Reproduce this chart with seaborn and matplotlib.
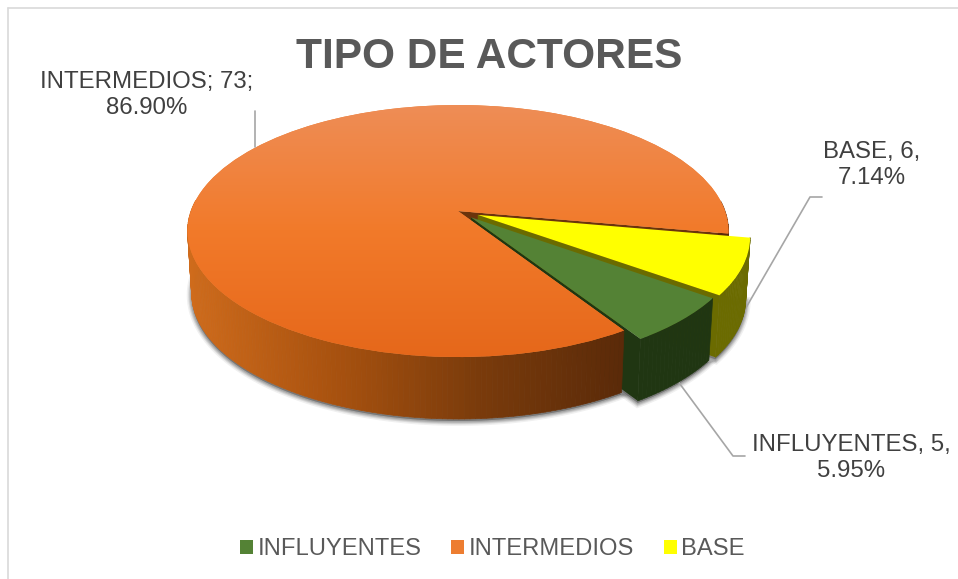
import numpy as np
import seaborn as sns
import matplotlib.pyplot as plt
import matplotlib.transforms as mtransforms
from matplotlib.collections import PolyCollection
from matplotlib.colors import LinearSegmentedColormap
from matplotlib.lines import Line2D
from matplotlib.patches import Polygon

# Values
categories = ['INFLUYENTES', 'INTERMEDIOS', 'BASE']
values = [5, 73, 6]
percent_labels = ['5.95%', '86.90%', '7.14%']
separators = [',', ';', ',']
title_text = 'TIPO DE ACTORES'

sns.set_style('white')
plt.rcParams['font.family'] = ['Liberation Sans', 'DejaVu Sans']

W, H = 958, 579

# Tilted plane: pie unit coords -> figure pixels, with some perspective
CX, CY, RX, RY, K = 458.0, 211.0, 267.0, 122.8, 0.159
DEPTH = 62.0
SHRINK = 0.015


def project(xy, drop=0.0):
    xy = np.asarray(xy, dtype=float)
    w = 1 + K * xy[..., 1]
    sx = CX + RX * xy[..., 0] / w * (1 - SHRINK * drop)
    sy = CY - RY * xy[..., 1] / w + DEPTH * drop
    return np.stack([sx, sy], axis=-1)


class Tilt(mtransforms.Transform):
    input_dims = 2
    output_dims = 2

    def transform_non_affine(self, values):
        return project(values)


def arc_points(wedge, t1=None, t2=None):
    t1 = wedge.theta1 if t1 is None else t1
    t2 = wedge.theta2 if t2 is None else t2
    n = max(int(t2 - t1), 2)
    t = np.radians(np.linspace(t1, t2, n))
    return np.column_stack([wedge.center[0] + np.cos(t), wedge.center[1] + np.sin(t)])


def slice_outline(wedge, drop):
    pts = np.vstack([[wedge.center], arc_points(wedge)])
    return project(pts, drop)


def side_strips(wedge, t1=None, t2=None):
    pts = arc_points(wedge, t1, t2)
    top, low = project(pts, 0), project(pts, 1)
    return [np.array([top[i], top[i + 1], low[i + 1], low[i]]) for i in range(len(pts) - 1)]


def radial_face(wedge, angle):
    t = np.radians(angle)
    pts = np.array([wedge.center, [wedge.center[0] + np.cos(t), wedge.center[1] + np.sin(t)]])
    top, low = project(pts, 0), project(pts, 1)
    return np.array([top[0], top[1], low[1], low[0]])


palette = sns.color_palette(['#548235', '#ED7D31', '#FFFF00'])

fig = plt.figure(figsize=(W / 100, H / 100), dpi=100)
ax = fig.add_axes([0, 0, 1, 1])
wedges, _ = ax.pie(values, colors=palette, startangle=-36, counterclock=False,
                   explode=[0.07, 0, 0.08])
ax.set_aspect('auto')
ax.axis('off')

tilt = Tilt() + ax.transData
for wedge in wedges:
    wedge.set_transform(tilt)
    wedge.set_linewidth(0)
green, orange, yellow = wedges

# Soft shadow under the lower rim
for lw, alpha in zip([7, 5, 3.5, 2], [0.08, 0.12, 0.16, 0.2]):
    for wedge in wedges:
        ax.add_patch(Polygon(slice_outline(wedge, 1) + [0, 2], closed=True, facecolor='#404040',
                             edgecolor='#404040', lw=lw, alpha=alpha, zorder=1))

# Inner faces
ax.add_patch(Polygon(radial_face(orange, orange.theta1), facecolor='#6B340C', lw=0, zorder=2))
ax.add_patch(Polygon(radial_face(yellow, yellow.theta1), facecolor='#6B6B00', lw=0, zorder=3))
ax.add_patch(Polygon(radial_face(green, green.theta1), facecolor='#203612', lw=0, zorder=5))

# Outer rims: the orange rim is only seen on the front half, the rest stays behind the slices
orange_cmap = LinearSegmentedColormap.from_list('rim', ['#D06C1C', '#A9520F', '#7A3B0B', '#5A2A09'])
strips = side_strips(orange, -185, orange.theta2)
rim_x = np.array([s[:, 0].mean() for s in strips])
ax.add_collection(PolyCollection(strips, array=(rim_x - 186) / (625 - 186), cmap=orange_cmap,
                                 clim=(0, 1), edgecolors='face', linewidths=0.5, zorder=7))
ax.add_collection(PolyCollection(side_strips(orange, orange.theta1, orange.theta1 + 15),
                                 facecolors='#5A2A09', edgecolors='#5A2A09', linewidths=0.5, zorder=2))
ax.add_collection(PolyCollection(side_strips(yellow), facecolors='#6B6B00', edgecolors='#6B6B00',
                                 linewidths=0.5, zorder=3))
ax.add_collection(PolyCollection(side_strips(green), facecolors='#203612', edgecolors='#203612',
                                 linewidths=0.5, zorder=5))

yellow.set_zorder(4)
green.set_zorder(6)
orange.set_zorder(8)

# Orange top has a light to dark vertical gradient
top_cmap = LinearSegmentedColormap.from_list('top', ['#EE8E58', '#F27A2A', '#E5671A'])
grad = ax.imshow(np.linspace(0, 1, 256).reshape(-1, 1), cmap=top_cmap, aspect='auto',
                 extent=(180, 735, 360, 100), zorder=9)
grad.set_clip_path(orange)
ax.set_xlim(0, W)
ax.set_ylim(H, 0)

# Chart frame
frame_color = '#D9D9D9'
ax.add_line(Line2D([8, 8], [H, 8], color=frame_color, lw=1.2))
ax.add_line(Line2D([8, W], [8, 8], color=frame_color, lw=1.2))

ax.text(489.5, 57, title_text, ha='center', va='center', fontsize=30.5, fontweight='bold', color='#595959')

# Data labels with leader lines
label_xy = {'INTERMEDIOS': (147, 95), 'BASE': (872, 165), 'INFLUYENTES': (851, 458)}
for cat, val, pct, sep in zip(categories, values, percent_labels, separators):
    x, y = label_xy[cat]
    ax.text(x, y, f'{cat}{sep} {val}{sep}\n{pct}', ha='center', va='center', fontsize=17.3,
            color='#404040', linespacing=1.2, zorder=12)

leader = '#A6A6A6'
ax.add_line(Line2D([255, 255], [111, 147], color=leader, lw=1.2, zorder=10))
ax.add_line(Line2D([822, 810, 736], [197, 197, 325], color=leader, lw=1.2, zorder=1))
ax.add_line(Line2D([677, 733, 745], [380, 456, 456], color=leader, lw=1.2, zorder=1))

ax.legend(wedges, categories, ncol=3, loc='center', bbox_to_anchor=(492.5 / W, 1 - 549 / H),
          frameon=False, fontsize=17.1, handlelength=0.54, handleheight=0.54, handletextpad=0.2,
          columnspacing=1.25, labelcolor='#595959')

fig.savefig('out.png', dpi=100)
